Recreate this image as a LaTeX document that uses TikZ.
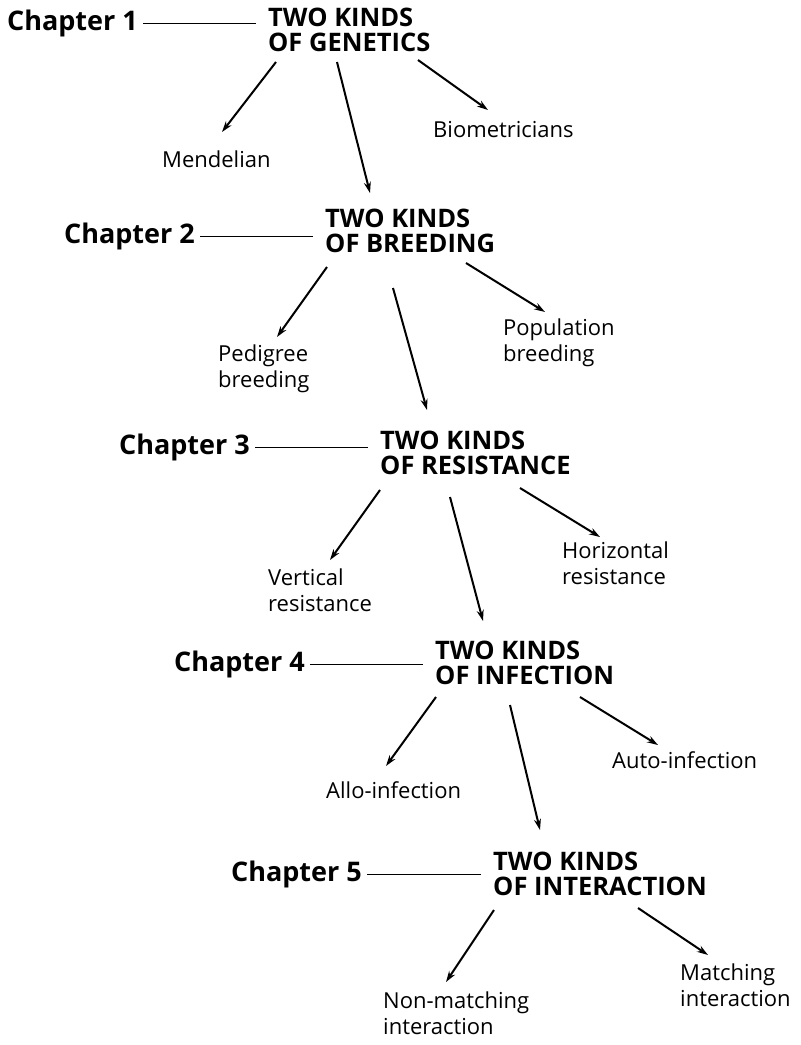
\documentclass[tikz,border=0pt]{standalone}
\usepackage{fontspec}
\setmainfont{Open Sans}
\usetikzlibrary{arrows.meta}
\begin{document}
\begin{tikzpicture}[x=1pt,y=-1pt,
  title/.style={anchor=north west,inner sep=0pt,align=left,font=\bfseries\fontsize{25.5}{25}\selectfont},
  chap/.style={anchor=base east,inner sep=0pt,font=\bfseries\fontsize{27}{30}\selectfont},
  item/.style={anchor=north west,inner sep=0pt,align=left,font=\fontsize{22}{26}\selectfont},
  arr/.style={line width=2pt,-{Stealth[length=11pt,width=7pt]}},
  link/.style={line width=1pt}]
\useasboundingbox (0,0) rectangle (801,1045);
% titles
\node[title] (t1) at (268,8) {TWO KINDS\\OF GENETICS};
\node[title] (t2) at (325,209) {TWO KINDS\\OF BREEDING};
\node[title] (t3) at (380,431) {TWO KINDS\\OF RESISTANCE};
\node[title] (t4) at (435,641) {TWO KINDS\\OF INFECTION};
\node[title] (t5) at (493,852) {TWO KINDS\\OF INTERACTION};
% chapters
\node[chap] (c1) at (138,30) {Chapter 1};
\node[chap] (c2) at (195,243) {Chapter 2};
\node[chap] (c3) at (250,454) {Chapter 3};
\node[chap] (c4) at (305,671) {Chapter 4};
\node[chap] (c5) at (362,881) {Chapter 5};
% items
\node[item] (mend) at (162,151) {Mendelian};
\node[item] (bio) at (433,121) {Biometricians};
\node[item] (ped) at (218,345) {Pedigree\\breeding};
\node[item] (pop) at (503,319) {Population\\breeding};
\node[item] (ver) at (268,569) {Vertical\\resistance};
\node[item] (hor) at (562,542) {Horizontal\\resistance};
\node[item] (allo) at (326,781) {Allo-infection};
\node[item] (auto) at (612,751) {Auto-infection};
\node[item] (non) at (383,992) {Non-matching\\interaction};
\node[item] (mat) at (680,964) {Matching\\interaction};
% chapter links
\foreach \c/\t in {c1/t1,c2/t2,c3/t3,c4/t4,c5/t5}{
  \draw[link] ([xshift=5pt,yshift=7pt]\c.base east) -- ([xshift=-12pt,yshift=7pt]\c.base east -| \t.west);
}
% arrows
\draw[arr] ([shift={(8,54)}]t1.north west) -- ([shift={(60,-19)}]mend.north west);
\draw[arr] ([shift={(69,54)}]t1.north west) -- ([shift={(45,-16)}]t2.north west);
\draw[arr] ([shift={(150,52)}]t1.north west) -- ([shift={(55,-11)}]bio.north west);
\draw[arr] ([shift={(2,58)}]t2.north west) -- ([shift={(59,-8)}]ped.north west);
\draw[arr] ([shift={(68,79)}]t2.north west) -- ([shift={(47,-21)}]t3.north west);
\draw[arr] ([shift={(141,54)}]t2.north west) -- ([shift={(42,-7)}]pop.north west);
\draw[arr] ([shift={(0,59)}]t3.north west) -- ([shift={(62,-9)}]ver.north west);
\draw[arr] ([shift={(70,66)}]t3.north west) -- ([shift={(48,-20)}]t4.north west);
\draw[arr] ([shift={(140,57)}]t3.north west) -- ([shift={(38,-5)}]hor.north west);
\draw[arr] ([shift={(1,56)}]t4.north west) -- ([shift={(60,-15)}]allo.north west);
\draw[arr] ([shift={(75,64)}]t4.north west) -- ([shift={(47,-22)}]t5.north west);
\draw[arr] ([shift={(145,56)}]t4.north west) -- ([shift={(46,-6)}]auto.north west);
\draw[arr] ([shift={(1,58)}]t5.north west) -- ([shift={(63,-10)}]non.north west);
\draw[arr] ([shift={(145,56)}]t5.north west) -- ([shift={(28,-9)}]mat.north west);
\end{tikzpicture}
\end{document}
